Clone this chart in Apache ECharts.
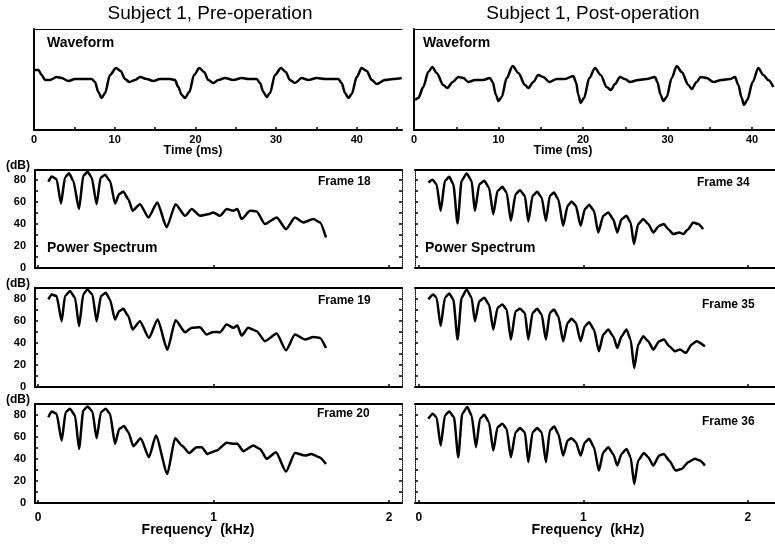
<!DOCTYPE html>
<html><head><meta charset="utf-8">
<script src="https://cdn.jsdelivr.net/npm/echarts@6/dist/echarts.min.js"></script>
<style>html,body{margin:0;padding:0;background:#fff}#c{width:775px;height:547px}</style>
</head><body><div id="c"></div>
<script>
// ---- tick labels ----
const timeTicks = [0, 10, 20, 30, 40];
const timeMinor = [0, 5, 10, 15, 20, 25, 30, 35, 40, 45];
const freqTicks = [0, 1, 2];
const dbTicks = [0, 20, 40, 60, 80];
const dbMinor = [0, 10, 20, 30, 40, 50, 60, 70, 80];

// ---- waveforms: [time ms, amplitude (arb.)] ----
const wavePre = [[0,10],[0.54,10],[0.95,5],[1.36,0],[1.98,0],[2.81,3],[3.43,2],[4.25,-1],[5.08,1],[6.11,1],[7.15,1],[7.56,-2],[7.97,-12],[8.39,-18],[8.8,-13],[9.42,5],[10.16,12],[10.74,9],[11.28,1],[11.81,-2],[12.52,0],[13.14,3],[13.96,1],[14.79,-1],[15.61,1],[16.85,1],[17.47,0],[17.88,-7],[18.3,-15],[18.71,-18],[19.25,-12],[19.83,5],[20.49,12],[21.07,8],[21.6,0],[22.22,-3],[22.84,0],[23.67,2],[24.7,0],[25.74,2],[26.56,1],[27.6,1],[28.0,-3],[28.42,-12],[28.83,-17],[29.24,-13],[29.86,5],[30.61,12],[31.19,8],[31.72,0],[32.34,-3],[33.17,2],[33.99,0],[35.03,2],[36.06,1],[37.71,1],[38.12,-3],[38.54,-13],[38.95,-18],[39.37,-14],[39.99,3],[40.6,12],[41.23,9],[41.85,0],[42.47,-4],[43.49,0],[44.52,1],[45.56,2]];
const wavePost = [[0.12,-20],[0.51,-18],[1.1,-7],[1.69,8],[2.17,13],[2.68,7],[3.47,-5],[3.94,-8],[4.58,-2],[5.25,3],[5.84,2],[6.43,-2],[7.22,0],[8.2,0],[8.99,2],[9.31,-2],[9.7,-15],[9.98,-21],[10.38,-17],[10.97,2],[11.68,14],[12.35,7],[13.14,-5],[13.53,-8],[14.12,-2],[14.71,5],[15.3,3],[16.02,-2],[16.88,1],[17.87,1],[18.85,4],[19.17,-2],[19.45,-15],[19.72,-23],[20.12,-18],[20.75,2],[21.42,12],[22.09,5],[22.8,-7],[23.31,-10],[23.79,-4],[24.38,3],[24.97,1],[25.56,-2],[26.55,0],[27.54,1],[28.52,3],[28.8,-2],[29.19,-15],[29.5,-21],[29.9,-17],[30.5,2],[31.09,14],[31.68,8],[32.47,-5],[32.86,-9],[33.45,-2],[33.92,3],[34.64,2],[35.42,-2],[36.41,0],[37.4,1],[37.99,3],[38.38,-5],[38.78,-18],[39.05,-25],[39.44,-20],[40.08,-2],[40.75,12],[41.34,5],[41.93,0],[42.52,-7]];

// ---- power spectra: [frequency kHz, level dB] ----
const frame18 = [[0.059,78.5],[0.078,83.1],[0.106,80.7],[0.131,58.6],[0.154,82.2],[0.177,86.1],[0.201,79.2],[0.234,53.5],[0.258,83.7],[0.283,87.3],[0.306,82.2],[0.334,58.0],[0.357,82.2],[0.382,84.6],[0.410,79.2],[0.439,58.6],[0.463,67.1],[0.486,69.5],[0.515,62.5],[0.539,52.0],[0.581,58.0],[0.629,45.9],[0.680,59.5],[0.733,36.9],[0.784,58.0],[0.838,47.4],[0.876,53.5],[0.923,47.4],[0.970,48.9],[0.999,50.5],[1.037,47.4],[1.075,53.5],[1.113,52.0],[1.136,53.5],[1.160,44.4],[1.208,52.0],[1.246,51.4],[1.293,39.9],[1.360,45.9],[1.413,35.3],[1.464,45.9],[1.512,41.4],[1.569,44.4],[1.607,41.4],[1.641,27.8]];
const frame19 = [[0.059,79.2],[0.078,83.7],[0.106,82.2],[0.135,59.5],[0.154,82.2],[0.182,86.7],[0.211,80.7],[0.234,55.0],[0.258,83.7],[0.281,88.2],[0.310,83.7],[0.334,59.5],[0.359,82.2],[0.386,85.2],[0.410,79.2],[0.439,61.0],[0.463,68.6],[0.486,70.7],[0.515,64.0],[0.539,52.0],[0.581,59.5],[0.632,44.4],[0.682,61.0],[0.737,33.8],[0.784,60.4],[0.838,49.5],[0.876,53.5],[0.923,54.1],[0.961,47.4],[0.999,49.8],[1.037,49.5],[1.075,56.5],[1.113,53.5],[1.136,55.6],[1.160,46.5],[1.198,53.5],[1.246,50.5],[1.293,41.4],[1.360,48.3],[1.413,33.2],[1.464,47.4],[1.522,42.9],[1.569,45.3],[1.607,44.4],[1.641,35.3]];
const frame20 = [[0.059,77.6],[0.078,82.8],[0.106,80.7],[0.135,56.5],[0.158,82.2],[0.182,85.2],[0.211,79.2],[0.234,48.9],[0.258,83.7],[0.283,87.3],[0.310,82.8],[0.334,58.6],[0.359,82.2],[0.386,85.2],[0.410,80.7],[0.439,53.5],[0.463,67.1],[0.490,69.5],[0.515,64.0],[0.543,51.4],[0.585,58.6],[0.632,41.4],[0.672,61.0],[0.737,26.3],[0.781,58.6],[0.819,52.0],[0.862,45.3],[0.904,50.5],[0.933,50.5],[0.965,44.4],[1.018,47.4],[1.075,54.4],[1.113,53.5],[1.136,53.5],[1.170,46.8],[1.227,52.0],[1.265,48.9],[1.303,39.9],[1.356,45.9],[1.413,28.4],[1.464,45.3],[1.522,42.9],[1.559,44.4],[1.603,41.4],[1.641,35.3]];
const frame34 = [[0.057,77.6],[0.083,80.1],[0.107,76.1],[0.132,52.0],[0.158,79.2],[0.184,82.8],[0.209,76.1],[0.235,40.5],[0.259,79.2],[0.290,85.8],[0.320,79.2],[0.340,52.0],[0.367,76.1],[0.397,79.2],[0.426,73.1],[0.452,48.9],[0.478,70.1],[0.507,73.7],[0.533,68.6],[0.559,42.9],[0.588,67.1],[0.614,70.7],[0.644,65.6],[0.665,42.3],[0.691,65.6],[0.719,69.2],[0.746,64.0],[0.772,42.9],[0.796,65.6],[0.821,68.6],[0.847,62.5],[0.877,38.4],[0.904,56.5],[0.928,60.4],[0.954,56.5],[0.983,38.4],[1.009,53.5],[1.035,57.4],[1.064,52.0],[1.090,32.3],[1.121,47.4],[1.151,50.5],[1.181,44.4],[1.206,32.3],[1.232,44.4],[1.262,47.4],[1.287,41.4],[1.307,21.8],[1.333,39.9],[1.364,44.4],[1.394,39.9],[1.425,32.3],[1.461,38.4],[1.489,39.9],[1.516,35.3],[1.546,30.8],[1.583,32.3],[1.607,30.8],[1.637,35.3],[1.668,41.4],[1.698,39.9],[1.728,35.3]];
const frame35 = [[0.057,79.2],[0.087,83.7],[0.107,80.7],[0.132,55.0],[0.158,80.7],[0.184,84.6],[0.209,79.2],[0.235,42.9],[0.259,80.7],[0.290,88.2],[0.320,80.7],[0.340,59.5],[0.367,77.6],[0.397,80.7],[0.426,74.6],[0.452,52.0],[0.478,71.6],[0.507,74.6],[0.533,70.1],[0.559,42.9],[0.588,68.6],[0.614,70.7],[0.644,67.1],[0.665,42.9],[0.691,67.1],[0.719,70.7],[0.746,65.6],[0.772,42.9],[0.796,67.1],[0.821,70.1],[0.847,64.0],[0.877,41.4],[0.904,58.0],[0.928,61.6],[0.954,58.0],[0.983,41.4],[1.009,55.0],[1.035,58.6],[1.064,52.0],[1.094,32.3],[1.121,47.4],[1.151,52.0],[1.181,45.9],[1.206,35.3],[1.232,45.9],[1.262,52.0],[1.287,42.9],[1.309,17.2],[1.333,38.4],[1.364,45.9],[1.394,41.4],[1.425,33.8],[1.461,41.4],[1.489,42.9],[1.522,36.9],[1.556,32.3],[1.587,33.8],[1.623,30.8],[1.658,38.4],[1.688,41.4],[1.739,36.9]];
const frame36 = [[0.057,76.1],[0.083,80.7],[0.107,77.6],[0.132,52.0],[0.158,79.2],[0.184,82.8],[0.213,77.6],[0.239,41.4],[0.263,80.7],[0.294,86.7],[0.320,79.2],[0.347,50.5],[0.371,76.1],[0.397,79.8],[0.426,73.1],[0.452,47.4],[0.478,68.6],[0.507,71.6],[0.533,67.1],[0.559,41.4],[0.588,64.0],[0.614,67.7],[0.644,64.0],[0.665,36.9],[0.691,64.0],[0.719,67.7],[0.746,64.0],[0.772,36.9],[0.796,65.6],[0.823,69.2],[0.847,62.5],[0.877,42.9],[0.904,56.5],[0.928,58.6],[0.954,55.0],[0.983,42.9],[1.009,55.0],[1.035,58.0],[1.064,50.5],[1.094,29.3],[1.121,45.9],[1.151,50.5],[1.181,44.4],[1.206,33.8],[1.232,44.4],[1.262,48.9],[1.287,41.4],[1.309,17.2],[1.333,38.4],[1.368,45.3],[1.394,41.4],[1.425,33.8],[1.461,42.9],[1.489,44.4],[1.522,38.4],[1.560,29.3],[1.597,30.8],[1.637,36.9],[1.678,39.9],[1.708,38.4],[1.739,33.8]];

// ---- layout ----
const FONT = "'Liberation Sans', Arial, Helvetica, sans-serif";
const panels = [
  {grid:{left:34,top:29,width:368,height:101}, kind:'wave', xmin:0, xmax:45.6, ymin:-50, ymax:51, data:wavePre, labels:true, side:'L'},
  {grid:{left:414,top:29,width:362,height:101}, kind:'wave', xmin:0, xmax:42.84, ymin:-50, ymax:51, data:wavePost, labels:true, side:'R'},
  {grid:{left:35,top:170,width:367,height:98}, kind:'spec', xmin:-0.017, xmax:2.074, ymin:0, ymax:89, data:frame18, labels:false, side:'L'},
  {grid:{left:415,top:170,width:361,height:98}, kind:'spec', xmin:-0.024, xmax:2.171, ymin:0, ymax:89, data:frame34, labels:false, side:'R'},
  {grid:{left:35,top:288,width:367,height:99}, kind:'spec', xmin:-0.017, xmax:2.074, ymin:0, ymax:89.5, data:frame19, labels:false, side:'L'},
  {grid:{left:415,top:288,width:361,height:99}, kind:'spec', xmin:-0.024, xmax:2.171, ymin:0, ymax:89.5, data:frame35, labels:false, side:'R'},
  {grid:{left:35,top:404,width:367,height:99}, kind:'spec', xmin:-0.017, xmax:2.074, ymin:0, ymax:89.5, data:frame20, labels:true, side:'L'},
  {grid:{left:415,top:404,width:361,height:99}, kind:'spec', xmin:-0.024, xmax:2.171, ymin:0, ymax:89.5, data:frame36, labels:true, side:'R'}
];

const grids = [], xAxes = [], yAxes = [], series = [];
const lblStyle = {color:'#000', fontFamily:FONT, fontWeight:'bold', fontSize:11};
panels.forEach((p, i) => {
  grids.push(Object.assign({containLabel:false, outerBoundsMode:'none'}, p.grid));
  const isWave = p.kind === 'wave';
  const xi = xAxes.length;
  xAxes.push({
    gridIndex:i, type:'value', min:p.xmin, max:p.xmax, position:'bottom',
    axisLine:{show:true, onZero:false, lineStyle:{color:'#000', width:2}},
    axisTick:{show:true, inside:true, length:3, customValues: isWave ? timeMinor : freqTicks, lineStyle:{color:'#000', width:1.5}},
    axisLabel:Object.assign({}, lblStyle, {show:p.labels, customValues: isWave ? timeTicks : freqTicks, margin: isWave ? 4 : 9, fontSize: isWave ? 11 : 12}),
    splitLine:{show:false}
  });
  xAxes.push({
    gridIndex:i, type:'value', min:p.xmin, max:p.xmax, position:'top',
    axisLine:{show:true, onZero:false, lineStyle:{color:'#000', width: isWave ? 1 : 2}},
    axisTick:{show:false}, axisLabel:{show:false}, splitLine:{show:false}
  });
  const yi = yAxes.length;
  const dottedLeft = (!isWave && p.side === 'R');
  yAxes.push({
    gridIndex:i, type:'value', min:p.ymin, max:p.ymax, position:'left',
    axisLine:{show:true, onZero:false, lineStyle:{color:'#000', width: dottedLeft ? 1 : 2, type: dottedLeft ? 'dotted' : 'solid'}},
    axisTick:{show:!isWave, inside:true, length:3, customValues:dbMinor, lineStyle:{color:'#000', width:1.5}},
    axisLabel:Object.assign({}, lblStyle, {show:(!isWave && p.side === 'L'), customValues:dbTicks, margin:9}),
    splitLine:{show:false}
  });
  if (!isWave && p.side === 'L') {
    yAxes.push({
      gridIndex:i, type:'value', min:p.ymin, max:p.ymax, position:'right',
      axisLine:{show:true, onZero:false, lineStyle:{color:'#000', width:1, type:'dotted'}},
      axisTick:{show:true, inside:true, length:3, customValues:dbMinor, lineStyle:{color:'#000', width:1.5}},
      axisLabel:{show:false}, splitLine:{show:false}
    });
  }
  series.push({
    type:'line', xAxisIndex:xi, yAxisIndex:yi, data:p.data,
    showSymbol:false, smooth: isWave ? 0.3 : 0.2, smoothMonotone:'x',
    lineStyle:{color:'#000', width:2.5}, silent:true
  });
});

function txt(t, x, y, size, weight, align) {
  return {type:'text', x:x, y:y, silent:true, style:{text:t, fill:'#000', font:(weight||'bold') + ' ' + size + 'px ' + FONT, textAlign:align||'left', textVerticalAlign:'middle'}};
}
const graphics = [
  txt('Subject 1, Pre-operation', 210, 14, 19, 'normal', 'center'),
  txt('Subject 1, Post-operation', 593, 14, 19, 'normal', 'center'),
  txt('Waveform', 47, 43, 14, 'bold'),
  txt('Waveform', 423, 43, 14, 'bold'),
  txt('Time (ms)', 193, 151, 12.5, 'bold', 'center'),
  txt('Time (ms)', 563, 151, 12.5, 'bold', 'center'),
  txt('Power Spectrum', 47, 248, 14, 'bold'),
  txt('Power Spectrum', 425, 248, 14, 'bold'),
  txt('Frame 18', 318, 182, 12, 'bold'),
  txt('Frame 19', 318, 301, 12, 'bold'),
  txt('Frame 20', 317, 414, 12, 'bold'),
  txt('Frame 34', 697, 183, 12, 'bold'),
  txt('Frame 35', 702, 305, 12, 'bold'),
  txt('Frame 36', 702, 422, 12, 'bold'),
  txt('(dB)', 18, 166, 12, 'bold', 'center'),
  txt('(dB)', 18, 284, 12, 'bold', 'center'),
  txt('(dB)', 18, 400, 12, 'bold', 'center'),
  txt('Frequency  (kHz)', 198, 530, 14, 'bold', 'center'),
  txt('Frequency  (kHz)', 588, 530, 14, 'bold', 'center')
];

const chart = echarts.init(document.getElementById('c'), null, {renderer:'canvas'});
chart.setOption({
  animation:false,
  backgroundColor:'#fff',
  grid:grids, xAxis:xAxes, yAxis:yAxes, series:series,
  graphic:graphics
});
</script>
</body></html>
